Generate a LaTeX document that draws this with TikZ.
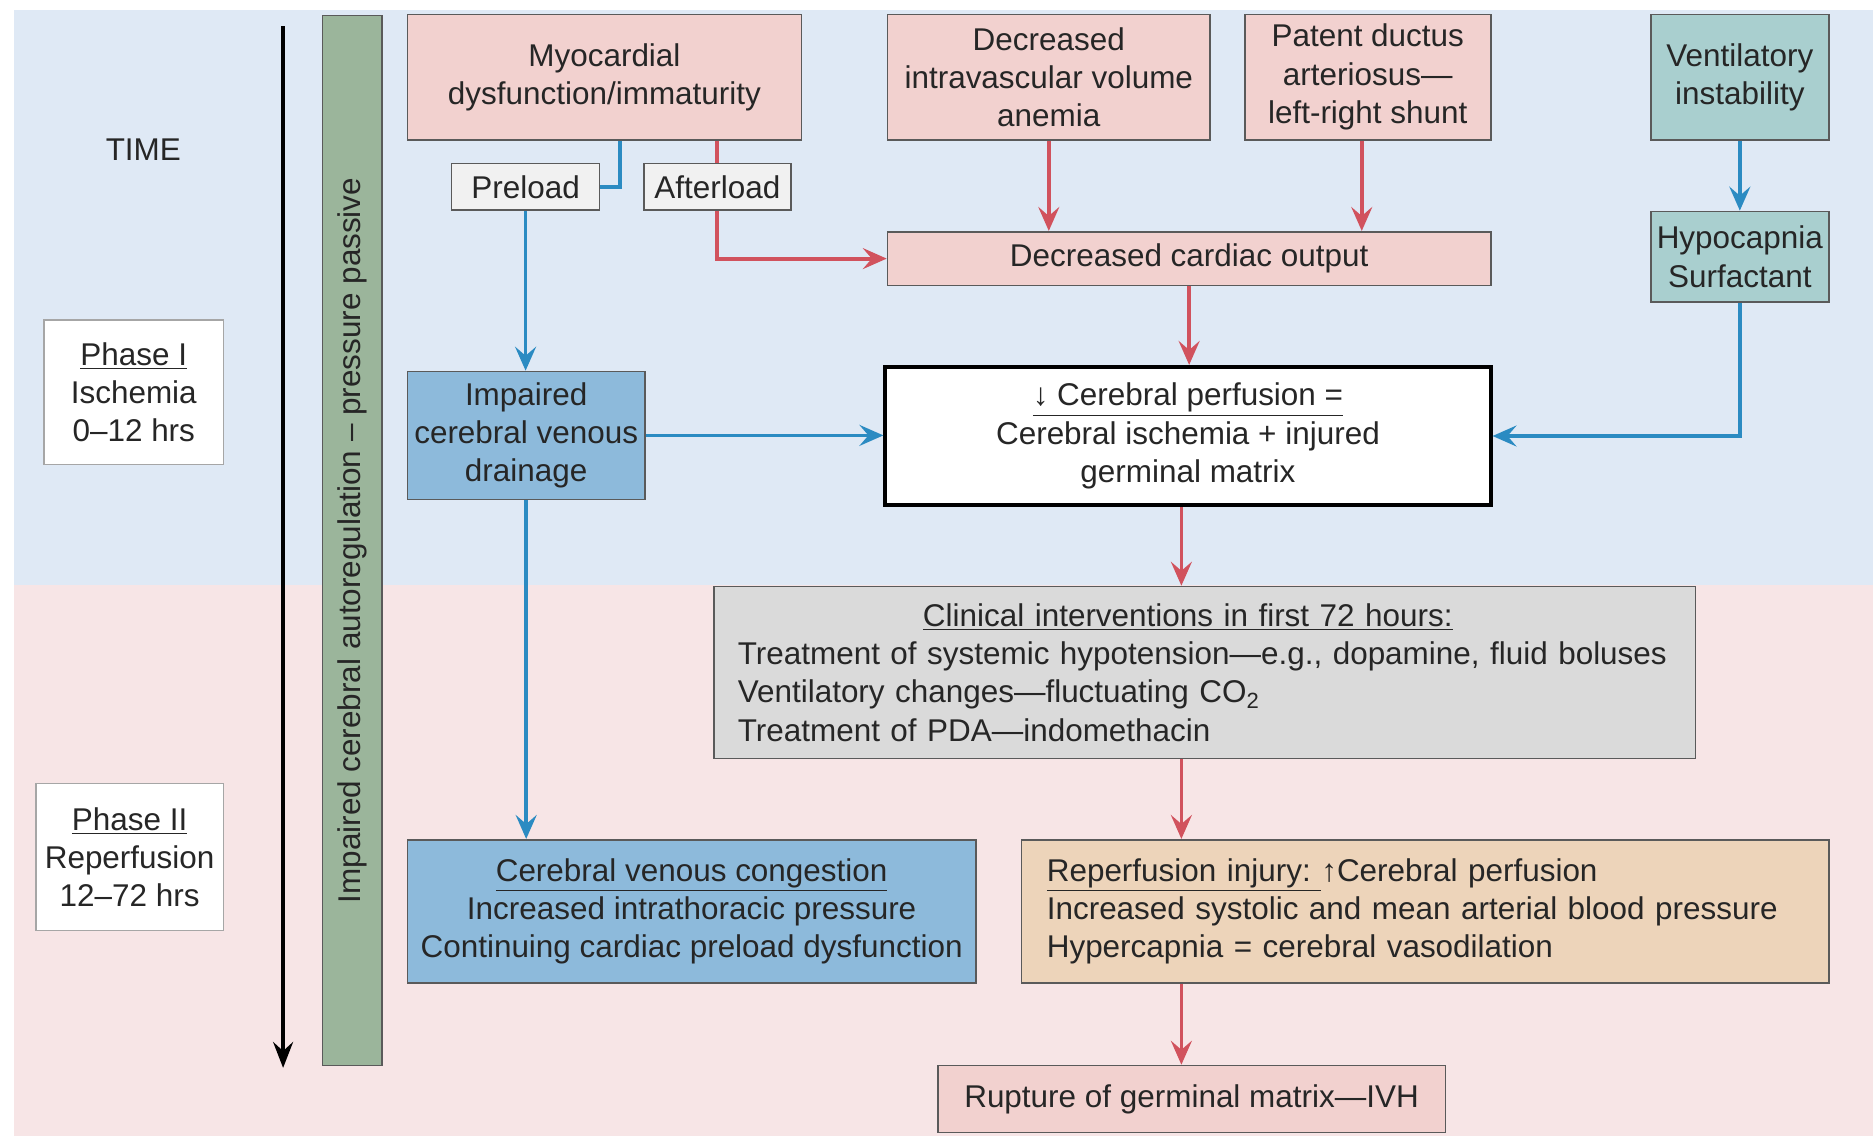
\documentclass[tikz,border=0pt]{standalone}
\usepackage{fontspec}
\setmainfont{Liberation Sans}
\usetikzlibrary{arrows.meta,calc}
\definecolor{bgblue}{HTML}{DFE9F5}
\definecolor{bgpink}{HTML}{F7E5E6}
\definecolor{pinkf}{HTML}{F2D1CF}
\definecolor{lgreyf}{HTML}{F1F1F1}
\definecolor{tealf}{HTML}{A9CFCF}
\definecolor{bluef}{HTML}{8DBADB}
\definecolor{tanf}{HTML}{EDD4BA}
\definecolor{clinf}{HTML}{DADADA}
\definecolor{greenf}{HTML}{9BB59B}
\definecolor{redln}{HTML}{D1525D}
\definecolor{blueln}{HTML}{2B8BC2}
\definecolor{bordc}{HTML}{5A5A5A}
\begin{document}
\begin{tikzpicture}[x=0.6pt,y=-0.6pt,
  wh/.style 2 args={minimum width=#1*0.6pt, minimum height=#2*0.6pt},
  txt/.style={font=\fontsize{15.8}{19.2}\selectfont, text=black!85},
  box/.style={txt, draw=bordc, line width=0.8pt, inner sep=0pt, align=center},
  tip/.style={-{Stealth[length=12pt,width=10.5pt,inset=4.5pt]}},
  rline/.style={draw=redln, line width=1.9pt},
  bline/.style={draw=blueln, line width=1.9pt},
  rarr/.style={rline, tip},
  barr/.style={bline, tip}]
\useasboundingbox (0,0) rectangle (1568,951);
% backgrounds
\fill[bgblue] (12,8) rectangle (1568,490);
\fill[bgpink] (12,490) rectangle (1568,951);

% time axis
\node[txt] (time) at (120,125) {TIME};
\coordinate (t0) at (237,22);
\coordinate (t1) at (237,894);
\draw[line width=1.8pt, black, -{Stealth[length=13pt,width=10pt,inset=4.5pt]}] (t0) -- (t1);

% green bar
\node[box, fill=greenf, wh={50}{879}] (bar) at (295,452.5) {};
\node[txt, rotate=90] (bartext) at (bar.center) {Impaired cerebral autoregulation – pressure passive};

% phase boxes
\node[box, fill=white, draw=gray!70, wh={150}{121}] (ph1) at (112,328.5) {\underline{Phase I}\\Ischemia\\0–12 hrs};
\node[box, fill=white, draw=gray!70, wh={157}{123}] (ph2) at (108.5,717.5) {\underline{Phase II}\\Reperfusion\\12–72 hrs};

% top row
\node[box, fill=pinkf, wh={330}{105}] (myo) at (506,64.5) {Myocardial\\dysfunction/immaturity};
\node[box, fill=lgreyf, wh={124}{39}] (pl) at (440,156.5) {Preload};
\node[box, fill=lgreyf, wh={123}{39}] (al) at (600.5,156.5) {Afterload};
\node[box, fill=pinkf, wh={270}{105}] (intra) at (878,64.5) {Decreased\\intravascular volume\\anemia};
\node[box, fill=pinkf, wh={206}{105}] (pda) at (1145,64.5) {Patent ductus\\arteriosus—\\left-right shunt};
\node[box, fill=tealf, wh={149}{105}] (vent) at (1456.5,64.5) {Ventilatory\\instability};
\node[box, fill=tealf, wh={149}{76}] (hypo) at (1456.5,215) {Hypocapnia\\Surfactant};
\node[box, fill=pinkf, wh={505}{45}] (dco) at (995.5,216.5) {Decreased cardiac output};

% middle
\node[box, fill=bluef, wh={199}{107}] (icvd) at (440.5,364.5) {Impaired\\cerebral venous\\drainage};
\node[box, fill=white, draw=black, line width=1.8pt, wh={507}{116}] (perf) at (994.5,365) {\underline{↓ Cerebral perfusion =}\\Cerebral ischemia + injured\\germinal matrix};

% clinical interventions
\node[box, fill=clinf, wh={821}{144}, align=left, text width=469pt, inner xsep=12pt] (clin) at (1008.5,563)
 {\hspace*{93pt}\underline{Clinical interventions in first 72 hours:}\\
  \mbox{Treatment of systemic hypotension—e.g., dopamine, fluid boluses}\\
  \mbox{Ventilatory changes—fluctuating CO\textsubscript{2}}\\
  \mbox{Treatment of PDA—indomethacin}};

% bottom
\node[box, fill=bluef, wh={476}{120}] (cvc) at (579,763) {\underline{Cerebral venous congestion}\\Increased intrathoracic pressure\\Continuing cardiac preload dysfunction};
\node[box, fill=tanf, wh={676}{120}, align=left, text width=380pt, inner xsep=12.6pt] (rep) at (1193,763)
 {\mbox{\underline{Reperfusion injury:~}↑Cerebral perfusion}\\
  \mbox{Increased systolic and mean arterial blood pressure}\\
  \mbox{Hypercapnia = cerebral vasodilation}};
\node[box, fill=pinkf, wh={425}{56}] (rup) at (997.5,920) {Rupture of germinal matrix—IVH};

% connectors
\coordinate (ax) at (989,0);
\draw[bline] ([xshift=7.8pt]myo.south) |- (pl.east);
\draw[rline] (myo.south -| al.north) -- (al.north);
\draw[rarr] (al.south) |- (dco.west);
\draw[barr] (pl.south) -- (pl.south |- icvd.north);
\draw[rarr] (intra.south) -- (intra.south |- dco.north);
\draw[rarr] ([xshift=-3pt]pda.south) -- ([xshift=-3pt]pda.south |- dco.north);
\draw[barr] (vent.south) -- (hypo.north);
\draw[barr] (hypo.south) |- (perf.east);
\draw[rarr] (dco.south) -- (dco.south |- perf.north);
\draw[barr] (icvd.east) -- (icvd.east -| perf.west);
\draw[barr] (icvd.south) -- (icvd.south |- cvc.north);
\draw[rarr] (perf.south -| ax) -- (clin.north -| ax);
\draw[rarr] (clin.south -| ax) -- (rep.north -| ax);
\draw[rarr] (rep.south -| ax) -- (rup.north -| ax);
\end{tikzpicture}
\end{document}
